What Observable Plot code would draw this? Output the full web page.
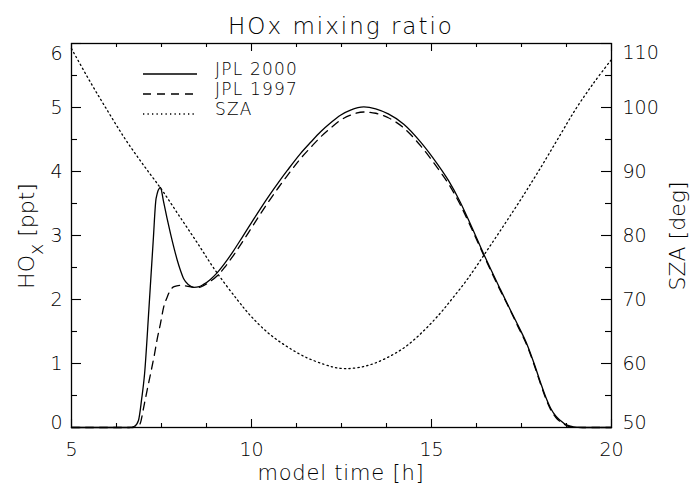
<!DOCTYPE html>
<html><head><meta charset="utf-8">
<script src="https://cdn.jsdelivr.net/npm/d3@7"></script>
<script src="https://cdn.jsdelivr.net/npm/@observablehq/plot@0.6"></script>
<style>
body{margin:0;background:#fff;}
#chart svg{display:block;}
</style>
</head><body><div id="chart"></div>
<script>
// ---- data ----
const time2000 = [5,6,6.6,6.75,6.86,6.95,7.03,7.15,7.27,7.35,7.47,7.55,7.65,7.75,7.85,7.94,8.03,8.12,8.25,8.4,8.55,8.68,8.85,9.05,9.25,9.5,9.75,10.0,10.25,10.5,10.75,11.0,11.36,11.65,11.92,12.2,12.47,12.75,13.12,13.45,13.8,14.23,14.7,15.16,15.47,15.8,16.08,16.45,16.92,17.1,17.4,17.66,17.85,18.03,18.17,18.31,18.45,18.58,18.75,18.95,19.2,20];
const hox2000  = [0,0,0,0.02,0.11,0.45,0.84,1.85,2.92,3.58,3.75,3.55,3.28,3.03,2.80,2.61,2.45,2.32,2.23,2.19,2.20,2.24,2.31,2.42,2.56,2.76,2.98,3.20,3.42,3.63,3.83,4.02,4.28,4.46,4.62,4.76,4.88,4.96,5.01,4.98,4.90,4.74,4.46,4.12,3.86,3.52,3.18,2.71,2.15,1.94,1.60,1.29,1.00,0.70,0.48,0.30,0.18,0.11,0.04,0.01,0,0];

const time1997 = [5,6,6.7,6.85,6.92,7.0,7.1,7.2,7.29,7.38,7.47,7.56,7.66,7.75,7.85,8.03,8.2,8.4,8.55,8.68,8.85,9.05,9.25,9.5,9.75,10.0,10.25,10.5,10.75,11.0,11.36,11.65,11.92,12.2,12.47,12.75,13.12,13.45,13.8,14.23,14.7,15.16,15.47,15.8,16.08,16.45,16.92,17.1,17.4,17.66,17.85,18.03,18.17,18.31,18.45,18.58,18.75,18.95,19.2,20];
const hox1997  = [0,0,0,0.02,0.08,0.30,0.58,0.85,1.10,1.38,1.62,1.88,2.04,2.15,2.20,2.22,2.21,2.19,2.19,2.22,2.28,2.37,2.50,2.69,2.90,3.12,3.34,3.55,3.75,3.94,4.20,4.38,4.54,4.68,4.80,4.88,4.93,4.91,4.84,4.68,4.40,4.06,3.81,3.48,3.15,2.69,2.13,1.93,1.58,1.27,0.98,0.68,0.46,0.28,0.16,0.09,0.03,0.005,0,0];

const timeSza = [5,5.5,6,6.5,7,7.5,8,8.5,9,9.6,10,10.5,11,11.5,12,12.3,12.6,13,13.4,13.9,14.32,14.8,15.25,15.6,16,16.5,17,17.5,18,18.5,19,19.5,20];
const sza      = [109.2,104.2,99.5,95.0,91.0,87.2,83.0,78.8,74.5,70.0,67.3,64.6,62.6,61.0,59.9,59.4,59.2,59.4,60.0,61.3,62.8,65.2,67.9,70.3,73.2,77.3,81.5,85.8,90.3,95.0,99.7,103.8,107.5];

const xMajorTicks = [5,10,15,20];
const xMinorTicks = [6.25,7.5,8.75,11.25,12.5,13.75,16.25,17.5,18.75];
const yMajorTicks = [0,1,2,3,4,5,6];
const yMinorTicks = [0.5,1.5,2.5,3.5,4.5,5.5];
const szaMajorTicks = [50,60,70,80,90,100,110];
const szaMinorTicks = [55,65,75,85,95,105];

const seriesNames = ["JPL 2000","JPL 1997","SZA"];

// ---- layout ----
const W = 691, H = 486, mL = 71, mR = 80, mT = 43, mB = 59;
const innerW = W - mL - mR, innerH = H - mT - mB;
const FONT = "'DejaVu Sans', sans-serif";
const szaToY = s => (s - 50) / 10;   // right axis 50..110 maps onto left 0..6
const yToSza = v => Math.round(v * 10 + 50);

const d2000 = time2000.map((t,i)=>({t, v:hox2000[i]}));
const d1997 = time1997.map((t,i)=>({t, v:hox1997[i]}));
const dSza  = timeSza.map((t,i)=>({t, v:szaToY(sza[i])}));

const lineW = 1.3;
const axisText = {tickSize:0, fontSize:19, fill:"black", label:null};
const intFmt = d => String(Math.round(d));

const chart = Plot.plot({
  width: W, height: H,
  marginLeft: mL, marginRight: mR, marginTop: mT, marginBottom: mB,
  style: {fontFamily: FONT, fontWeight: 200, fontSize: "19px", color:"black", background:"white"},
  x: {domain:[5,20], axis:null},
  y: {domain:[0,6], axis:null},
  marks: [
    Plot.frame({stroke:"black", strokeWidth:1.3}),
    // ticks (inward)
    Plot.tickX(xMajorTicks, {x:d=>d, insetTop: innerH-8, stroke:"black", strokeWidth:1.1}),
    Plot.tickX(xMajorTicks, {x:d=>d, insetBottom: innerH-8, stroke:"black", strokeWidth:1.1}),
    Plot.tickX(xMinorTicks, {x:d=>d, insetTop: innerH-4, stroke:"black", strokeWidth:1.1}),
    Plot.tickX(xMinorTicks, {x:d=>d, insetBottom: innerH-4, stroke:"black", strokeWidth:1.1}),
    Plot.tickY(yMajorTicks, {y:d=>d, insetRight: innerW-10, stroke:"black", strokeWidth:1.1}),
    Plot.tickY(yMinorTicks, {y:d=>d, insetRight: innerW-6, stroke:"black", strokeWidth:1.1}),
    Plot.tickY(szaMajorTicks.map(szaToY), {y:d=>d, insetLeft: innerW-10, stroke:"black", strokeWidth:1.1}),
    Plot.tickY(szaMinorTicks.map(szaToY), {y:d=>d, insetLeft: innerW-6, stroke:"black", strokeWidth:1.1}),
    // tick labels
    Plot.axisX({...axisText, ticks: xMajorTicks, tickFormat: intFmt, tickPadding: 15, anchor:"bottom"}),
    Plot.axisY({...axisText, ticks: yMajorTicks.slice(1,-1), tickFormat: intFmt, tickPadding: 9, anchor:"left"}),
    Plot.axisY({...axisText, ticks: yMajorTicks.slice(-1), tickFormat: intFmt, tickPadding: 9, anchor:"left", dy: 10}),
    Plot.axisY({...axisText, ticks: yMajorTicks.slice(0,1), tickFormat: intFmt, tickPadding: 9, anchor:"left", dy: -5}),
    Plot.axisY({...axisText, ticks: szaMajorTicks.slice(1,-1).map(szaToY), tickFormat: yToSza, tickPadding: 11, anchor:"right"}),
    Plot.axisY({...axisText, ticks: szaMajorTicks.slice(-1).map(szaToY), tickFormat: yToSza, tickPadding: 11, anchor:"right", dy: 9}),
    Plot.axisY({...axisText, ticks: szaMajorTicks.slice(0,1).map(szaToY), tickFormat: yToSza, tickPadding: 11, anchor:"right", dy: -5}),
    // data
    Plot.line(dSza, {x:"t", y:"v", stroke:"black", strokeWidth:1.3, strokeDasharray:"1.3,3.2", curve:"catmull-rom"}),
    Plot.line(d1997, {x:"t", y:"v", stroke:"black", strokeWidth:lineW, strokeDasharray:"8,6", curve:"monotone-x"}),
    Plot.line(d2000, {x:"t", y:"v", stroke:"black", strokeWidth:lineW, curve:"monotone-x"})
  ]
});

const svg = d3.select(chart);
svg.append("text").attr("x", 341).attr("y", 34).attr("text-anchor","middle")
  .attr("font-size", 23).attr("letter-spacing", 2).attr("fill","black").text("HOx mixing ratio");
svg.append("text").attr("x", 341).attr("y", 480).attr("text-anchor","middle")
  .attr("font-size", 21).attr("letter-spacing", 0.8).attr("fill","black").text("model time [h]");
const yl = svg.append("text").attr("transform","translate(34,236) rotate(-90)").attr("text-anchor","middle")
  .attr("font-size", 22).attr("fill","black");
yl.append("tspan").text("HO");
yl.append("tspan").attr("dy", 9).attr("font-size", 19).text("x");
yl.append("tspan").attr("dy", -9).text(" [ppt]");
svg.append("text").attr("transform","translate(685,236) rotate(-90)").attr("text-anchor","middle")
  .attr("font-size", 22).attr("fill","black").text("SZA [deg]");

// legend
const dashes = [null, "8,6", "1.3,3.2"];
const lg = svg.append("g").attr("text-anchor","start");
seriesNames.forEach((name,i)=>{
  const yy = 74 + i*20;
  lg.append("line").attr("x1",143).attr("x2",197).attr("y1",yy).attr("y2",yy)
    .attr("stroke","black").attr("stroke-width",1.3).attr("stroke-dasharray", dashes[i]);
  lg.append("text").attr("x",215).attr("y",yy+1).attr("text-anchor","start").attr("font-size",17).attr("letter-spacing",1.2)
    .attr("fill","black").text(name);
});

document.getElementById("chart").appendChild(chart);
</script>
</body></html>
